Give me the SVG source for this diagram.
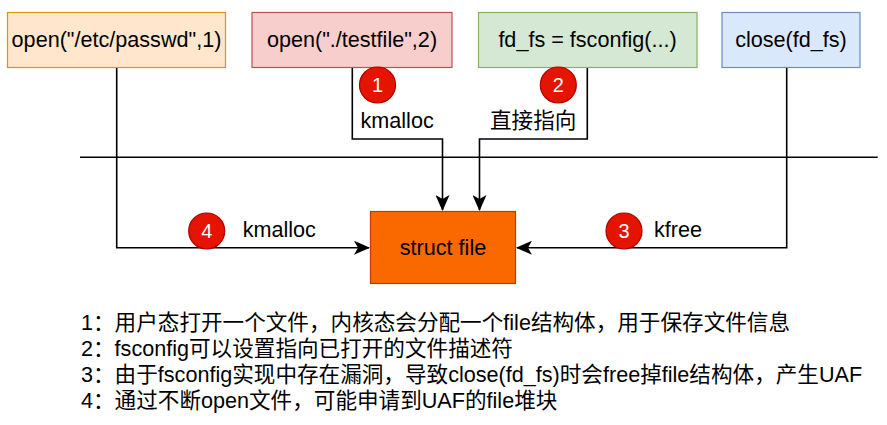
<svg xmlns="http://www.w3.org/2000/svg" width="887" height="425" viewBox="0 0 887 425">
<style>
text{font-family:"Liberation Sans","Noto Sans CJK SC",Arial,sans-serif;font-size:21.6px;fill:#000}
.c{text-anchor:middle}
.n{fill:#fff;font-size:20px;text-anchor:middle}
.ln{fill:none;stroke:#000;stroke-width:1.6}
.dot{fill:#e51400;stroke:#b20000;stroke-width:1.2}
</style>
<defs>
<marker id="ar" viewBox="0 0 16 14" refX="15" refY="7" markerWidth="16" markerHeight="14" markerUnits="userSpaceOnUse" orient="auto">
<path d="M0,0 L16,7 L0,14 L4,7 Z" fill="#000"/>
</marker>
</defs>
<g id="connectors">
<line class="ln" x1="80" y1="157.3" x2="877.7" y2="157.3"/>
<path class="ln" d="M352.3,67 V139 H442.5 V210" marker-end="url(#ar)"/>
<path class="ln" d="M587.3,67 V139 H479.5 V210" marker-end="url(#ar)"/>
<path class="ln" d="M116.7,67 V247.7 H369" marker-end="url(#ar)"/>
<path class="ln" d="M786.7,67 V247.7 H517" marker-end="url(#ar)"/>
</g>
<g id="n1"><rect x="7.5" y="12.5" width="218" height="55" fill="#ffe6cc" stroke="#d79b00" stroke-width="1.2"/><text class="c" x="116.5" y="47">open("/etc/passwd",1)</text></g>
<g id="n2"><rect x="252" y="12.5" width="200" height="55" fill="#f8cecc" stroke="#b85450" stroke-width="1.2"/><text class="c" x="352" y="47">open("./testfile",2)</text></g>
<g id="n3"><rect x="478.5" y="12.5" width="218.5" height="55" fill="#d5e8d4" stroke="#82b366" stroke-width="1.2"/><text class="c" x="587.5" y="47">fd_fs = fsconfig(...)</text></g>
<g id="n4"><rect x="722" y="12.5" width="138" height="55" fill="#dae8fc" stroke="#6c8ebf" stroke-width="1.2"/><text class="c" x="791" y="47">close(fd_fs)</text></g>
<g id="structfile"><rect x="370.5" y="211.5" width="145" height="72" fill="#fa6800" stroke="#c73500" stroke-width="1.2"/><text class="c" x="443" y="255">struct file</text></g>
<g id="label1"><circle class="dot" cx="377.5" cy="85" r="18"/><text class="n" x="377.5" y="92">1</text><text x="360.5" y="128">kmalloc</text></g>
<g id="label2"><circle class="dot" cx="558.3" cy="85" r="18"/><text class="n" x="558.3" y="92">2</text><text x="490" y="128">直接指向</text></g>
<g id="label4"><circle class="dot" cx="206.7" cy="231" r="18"/><text class="n" x="206.7" y="238">4</text><text x="242.7" y="237.3">kmalloc</text></g>
<g id="label3"><circle class="dot" cx="624" cy="231" r="18"/><text class="n" x="624" y="238">3</text><text x="654" y="237.3">kfree</text></g>
<g id="legend">
<text x="81" y="329.5">1：用户态打开一个文件，内核态会分配一个file结构体，用于保存文件信息</text>
<text x="81" y="355.5">2：fsconfig可以设置指向已打开的文件描述符</text>
<text x="81" y="381.5">3：由于fsconfig实现中存在漏洞，导致close(fd_fs)时会free掉file结构体，产生UAF</text>
<text x="81" y="407.5">4：通过不断open文件，可能申请到UAF的file堆块</text>
</g>
</svg>
